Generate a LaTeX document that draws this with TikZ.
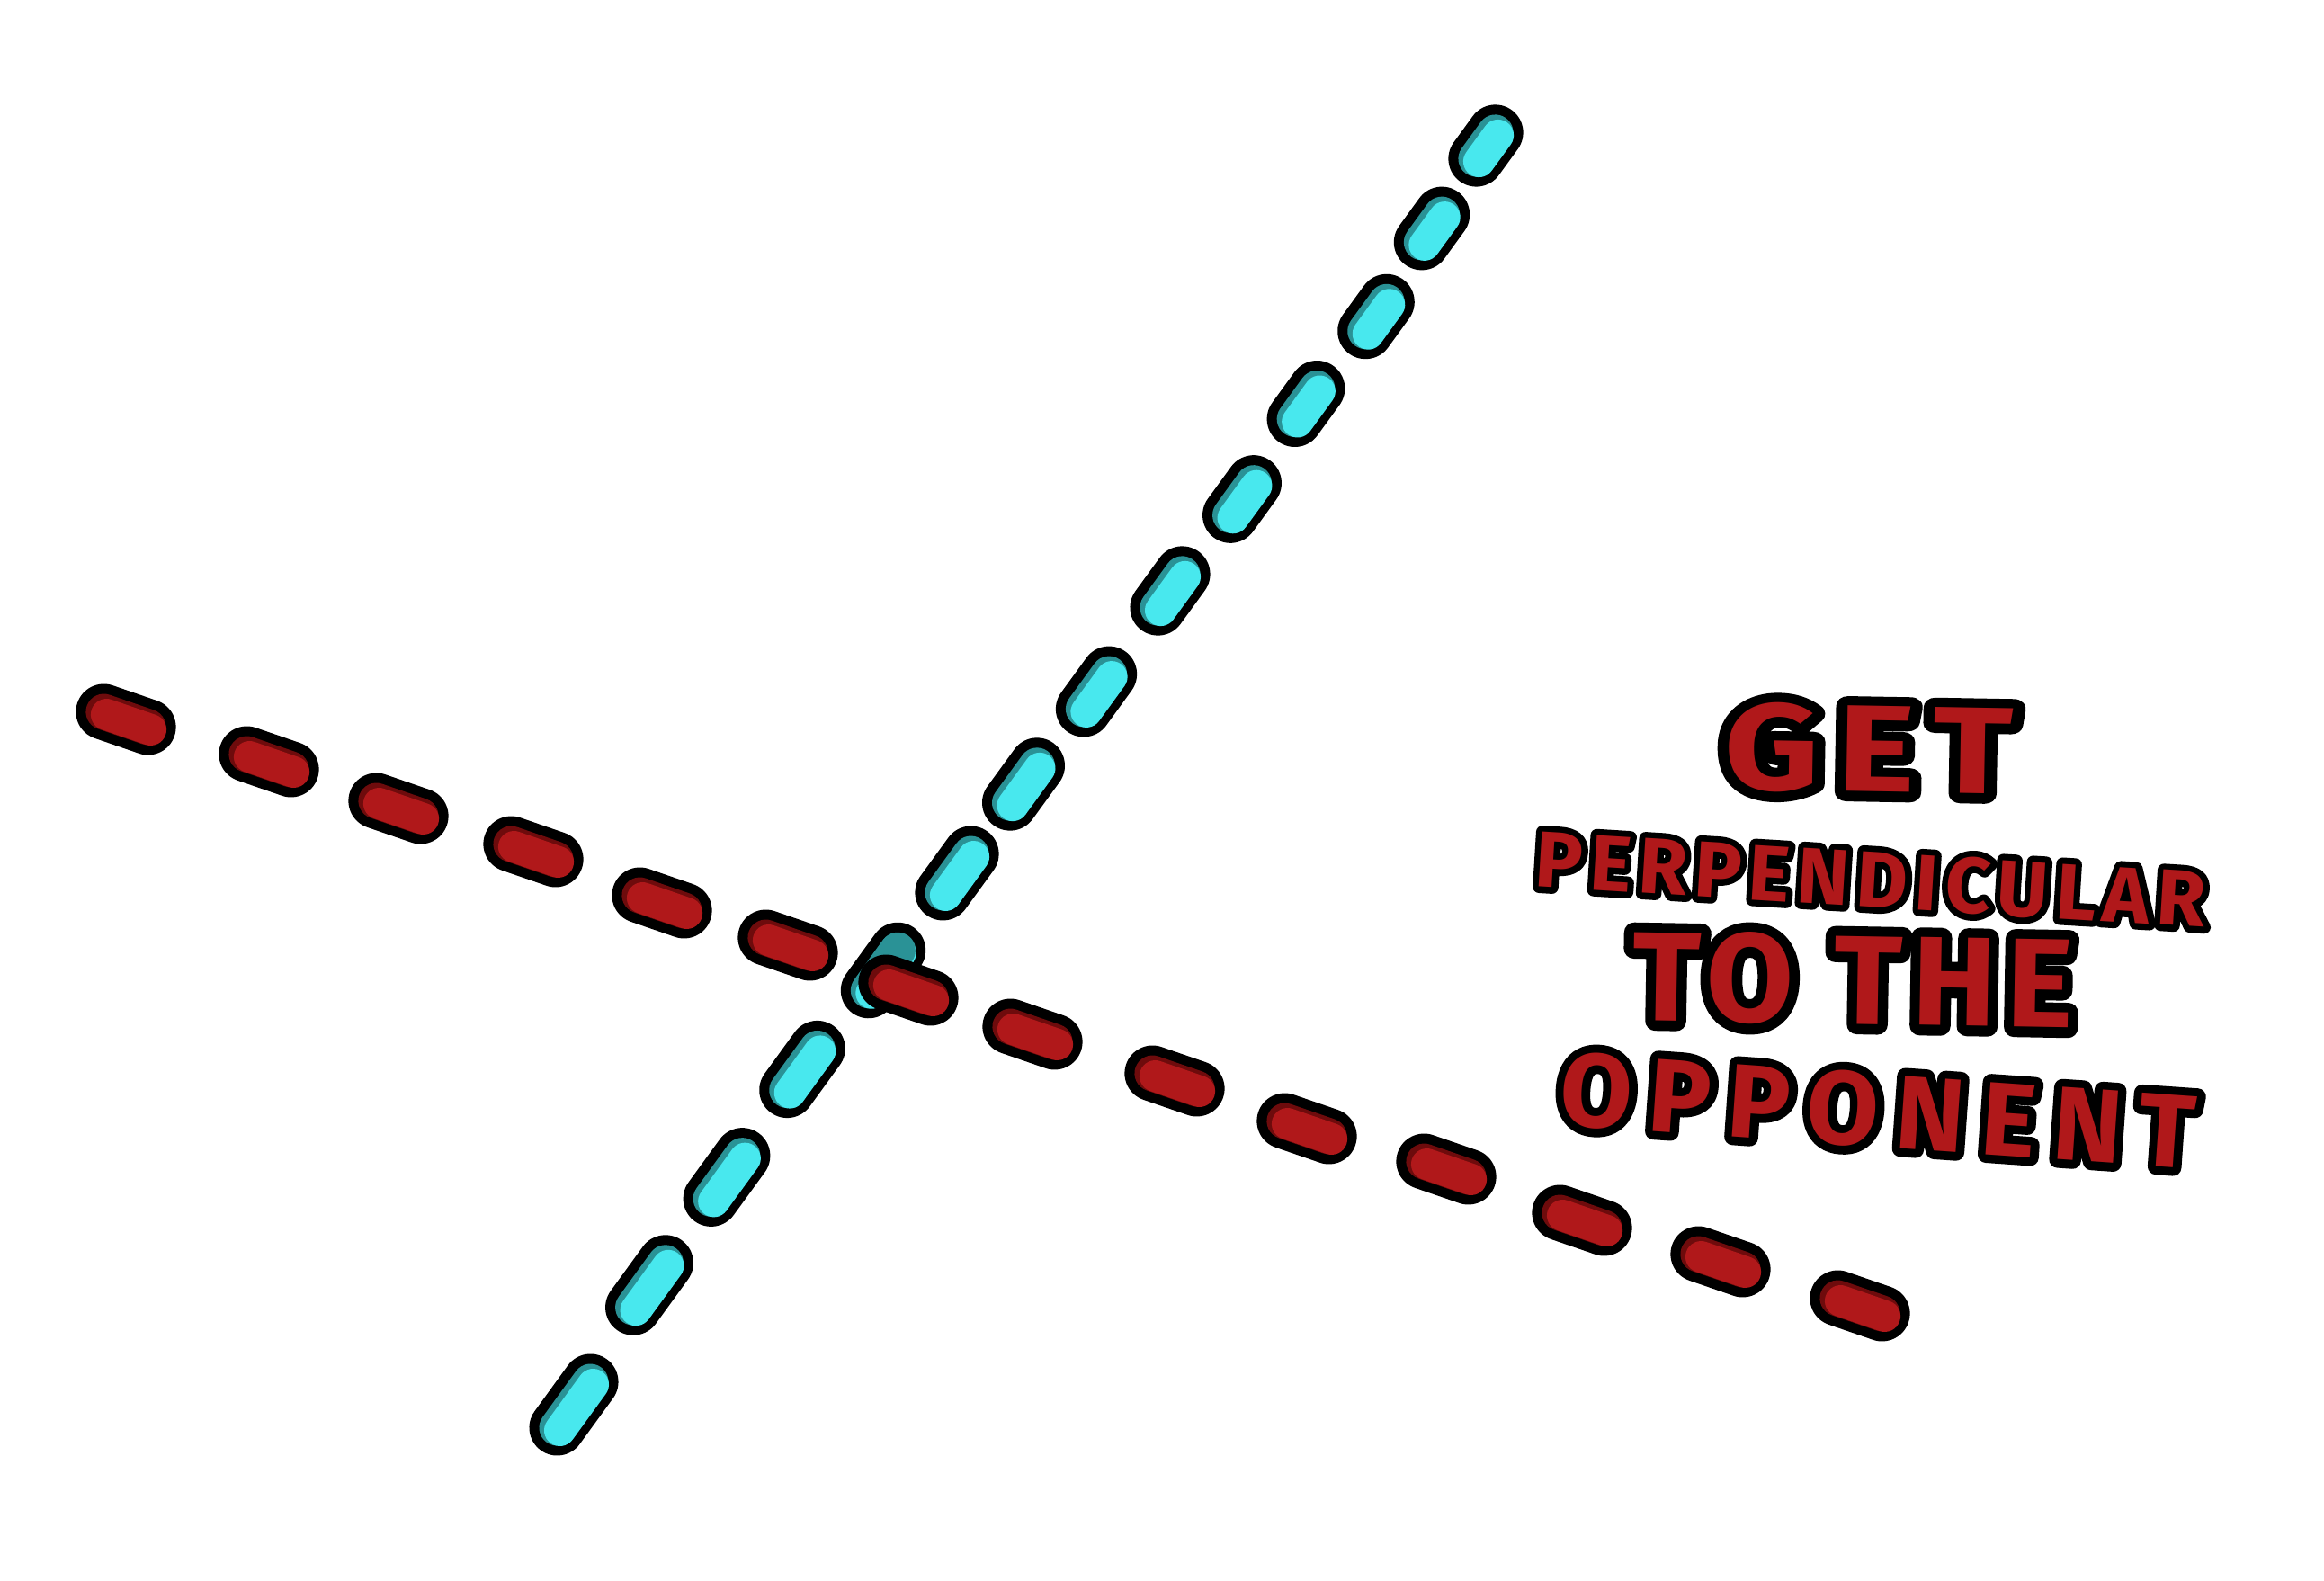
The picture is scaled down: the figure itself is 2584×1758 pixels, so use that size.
\documentclass[tikz,border=0pt]{standalone}
\usepackage{fontspec}
\setmainfont{Fira Sans}

\definecolor{pillred}{HTML}{B0181A}
\definecolor{pillredshade}{HTML}{6E0B0C}
\definecolor{pillcyan}{HTML}{48E8EE}
\definecolor{pillcyanshade}{HTML}{2A9296}

% outlined hand lettering: black stroked copy (round joins) under the red face
\newcommand\comictext[5]{%
  \node[comic, text=black, #3, font={#4\addfontfeature{FakeBold=16}}] at (#2) {\special{pdf:literal direct 1 j 1 J}#5};
  \node[comic, #3, font={#4}] (#1) at (#2) {#5};
}

\begin{document}
\begin{tikzpicture}[x=0.01cm, y=-0.01cm]
\tikzset{
  cyanpill/.style={draw=black, line width=0.62cm, line cap=round,
    postaction={draw=pillcyanshade, line width=0.40cm},
    postaction={draw=pillcyan, line width=0.35cm, transform canvas={xshift=0.03cm, yshift=-0.03cm}}},
  redpill/.style={draw=black, line width=0.62cm, line cap=round,
    postaction={draw=pillredshade, line width=0.40cm},
    postaction={draw=pillred, line width=0.35cm, transform canvas={xshift=0.03cm, yshift=-0.03cm}}},
  comic/.style={inner sep=0pt, text=pillred}
}
\useasboundingbox (0,0) rectangle (2584,1758);

% Cyan line
\foreach \x/\y/\l in {1652/162/36, 1592/254/38, 1530/352/40, 1452/449/42,
    1381/555/44, 1301/657/46, 1219/769/48, 1138/872/51, 1064/971/53,
    982/1079/55, 892/1189/57, 808/1309/59, 722/1429/61, 638/1562/63}
  \draw[cyanpill] (\x,\y) ++(126:\l/2) -- ++(-54:\l);
% shadow of the red dash on the crossed cyan dash
\coordinate (cross) at (982,1079);
\draw[pillcyanshade, line width=0.40cm, line cap=round] (cross) -- ++(-54:27);

% Red line
\foreach \x/\y in {140/800, 299/847, 443/899, 593/947, 736/1004, 876/1051,
    1010/1101, 1148/1150, 1306/1202, 1453/1255, 1608/1300, 1759/1357,
    1913/1403, 2068/1452}
  \draw[redpill] (\x,\y) ++(199:26) -- ++(19:52);

% Text
\comictext{get}{2078,833}{rotate=-1, xscale=1.2}{\fontsize{39}{39}\selectfont\bfseries\addfontfeature{LetterSpace=12}}{GET}
\comictext{perp}{2080,978}{rotate=-3.5}{\fontsize{25}{25}\selectfont\bfseries\addfontfeature{LetterSpace=9}}{PERPENDICULAR}
\comictext{tothe}{2060,1090}{rotate=-1}{\fontsize{40}{40}\selectfont\bfseries\addfontfeature{LetterSpace=8}}{TO THE}
\comictext{opp}{2088,1235}{rotate=-4}{\fontsize{33}{33}\selectfont\bfseries\addfontfeature{LetterSpace=16}}{OPPONENT}
\end{tikzpicture}
\end{document}
